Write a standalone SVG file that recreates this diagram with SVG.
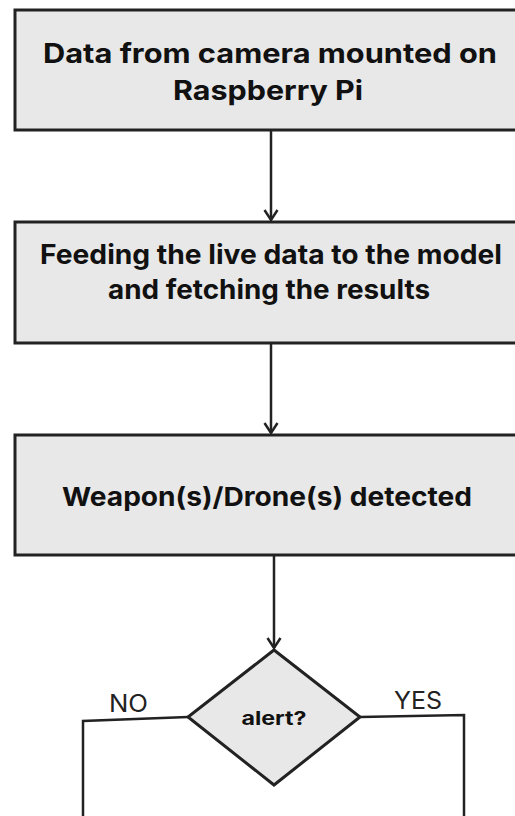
<svg xmlns="http://www.w3.org/2000/svg" width="515" height="816" viewBox="0 0 515 816">
<style>
.box{fill:#e8e8e8;stroke:#222;stroke-width:3}
.t{font-family:Inter,"Liberation Sans",Arial,sans-serif;font-weight:700;fill:#111;text-anchor:middle}
.lbl{font-family:Inter,"Liberation Sans",Arial,sans-serif;fill:#222;font-size:24px;font-weight:400}
.ln{fill:none;stroke:#222;stroke-width:2.5}
</style>
<defs>
<marker id="ah" markerWidth="16" markerHeight="16" refX="13" refY="8" orient="auto" markerUnits="userSpaceOnUse" viewBox="0 0 16 16">
<path d="M3,1.5 L13,8 L3,14.5" fill="none" stroke="#222" stroke-width="2.5"/>
</marker>
</defs>
<rect width="515" height="816" fill="#fff"/>
<g id="connectors">
<line class="ln" x1="271" y1="130" x2="271" y2="220" marker-end="url(#ah)"/>
<line class="ln" x1="271" y1="343" x2="271" y2="433" marker-end="url(#ah)"/>
<line class="ln" x1="274" y1="555" x2="274" y2="648" marker-end="url(#ah)"/>
<polyline class="ln" points="188,717 83,721 83,816"/>
<polyline class="ln" points="360,717 464,715 464,816"/>
<text class="lbl" x="109" y="712" textLength="39" lengthAdjust="spacingAndGlyphs">NO</text>
<text class="lbl" x="394" y="709" textLength="48" lengthAdjust="spacingAndGlyphs">YES</text>
</g>
<g id="node1">
<rect class="box" x="15" y="10" width="510" height="120"/>
<text class="t" font-size="27" x="270" y="63" textLength="454" lengthAdjust="spacingAndGlyphs">Data from camera mounted on</text>
<text class="t" font-size="27" x="268" y="100" textLength="190" lengthAdjust="spacingAndGlyphs">Raspberry Pi</text>
</g>
<g id="node2">
<rect class="box" x="15" y="222" width="510" height="121"/>
<text class="t" font-size="27" x="271" y="264" textLength="462" lengthAdjust="spacingAndGlyphs">Feeding the live data to the model</text>
<text class="t" font-size="27" x="269" y="299" textLength="322" lengthAdjust="spacingAndGlyphs">and fetching the results</text>
</g>
<g id="node3">
<rect class="box" x="15" y="435" width="510" height="120"/>
<text class="t" font-size="26" x="267" y="506" textLength="410" lengthAdjust="spacingAndGlyphs">Weapon(s)/Drone(s) detected</text>
</g>
<g id="decision">
<polygon class="box" points="274,650 360,717 274,785 188,717"/>
<text class="t" font-size="19" font-weight="600" x="274" y="725" textLength="65" lengthAdjust="spacingAndGlyphs">alert?</text>
</g>
</svg>
